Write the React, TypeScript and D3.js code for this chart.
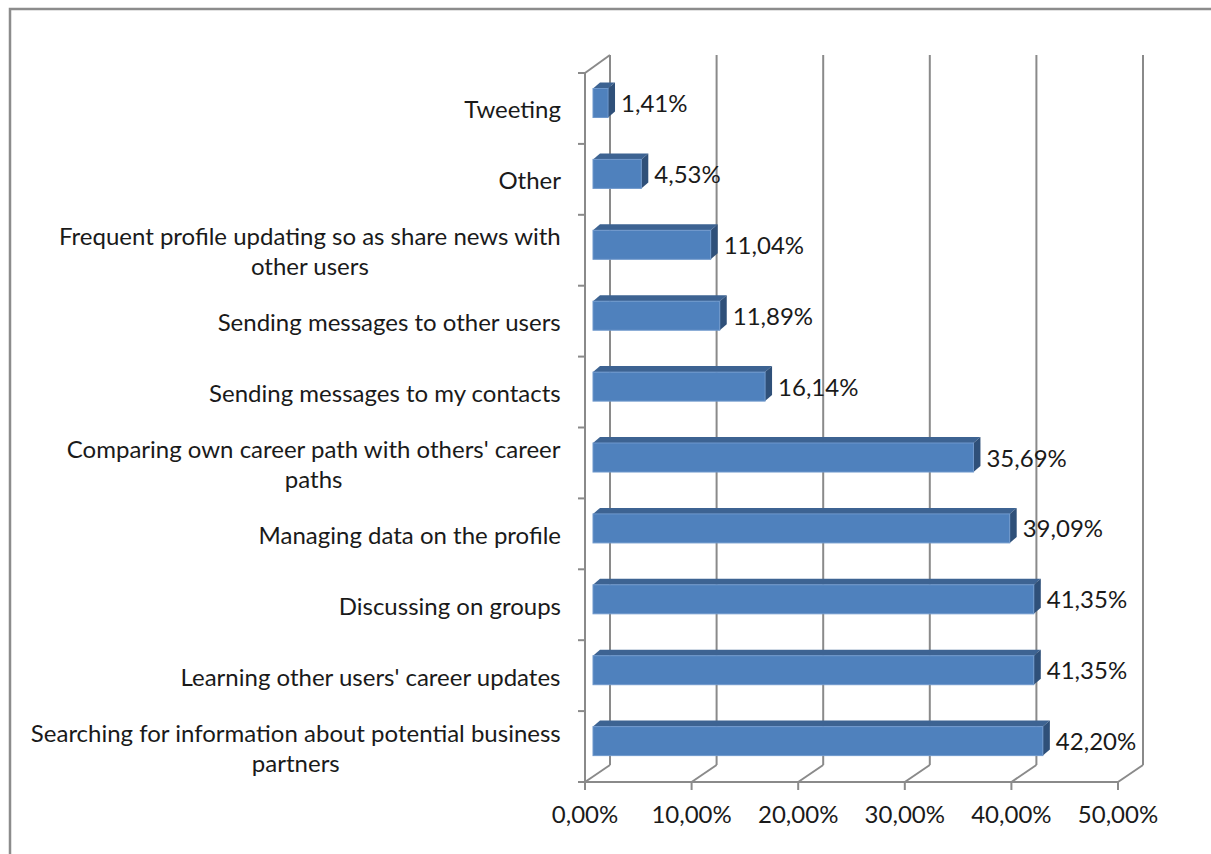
import React from "react";
import * as d3 from "d3";

const categories = [
  "Searching for information about potential business partners",
  "Learning other users' career updates",
  "Discussing on groups",
  "Managing data on the profile",
  "Comparing own career path with others' career paths",
  "Sending messages to my contacts",
  "Sending messages to other users",
  "Frequent profile updating so as share news with other users",
  "Other",
  "Tweeting",
];
const values = [42.2, 41.35, 41.35, 39.09, 35.69, 16.14, 11.89, 11.04, 4.53, 1.41];
const xTicks = [0, 10, 20, 30, 40, 50];

const W = 1211;
const H = 854;
const FONT = "Lato, 'Open Sans', sans-serif";
const FS = 24;
const WRAP = 540;

const fmt = (v: number) => v.toFixed(2).replace(".", ",") + "%";

function measure(text: string): number {
  const c = document.createElement("canvas");
  const ctx = c.getContext("2d")!;
  ctx.font = `${FS}px ${FONT}`;
  return ctx.measureText(text).width;
}

function wrap(text: string): string[] {
  const words = text.split(" ");
  const lines: string[] = [];
  let cur = "";
  for (const w of words) {
    const t = cur ? cur + " " + w : w;
    if (cur && measure(t) > WRAP) {
      lines.push(cur);
      cur = w;
    } else cur = t;
  }
  if (cur) lines.push(cur);
  return lines;
}

export default function App() {
  const x = d3.scaleLinear().domain([0, 50]).range([585, 1118]);
  const y = d3.scaleBand<string>().domain([...categories].reverse()).range([73, 782]);
  const DX = 25, DY = 17;
  const d1 = 0.32, d2 = 0.6;
  const barH = 29;
  const grid = "#8a8a8a";
  const yTop = 782 - DY;
  const wallTop = 73 - DY - 1;
  const bandEdges = [...categories.map((c) => y(c)!), 782];

  return (
    <svg width={W} height={H} style={{ position: "absolute", left: 0, top: 0, background: "#fff" }}>
      <rect x={10} y={9} width={W + 20} height={H + 20} fill="#fff" stroke="#8c8c8c" strokeWidth={2.5} />
      {xTicks.map((t) => (
        <g key={t}>
          <line x1={x(t) + DX} x2={x(t) + DX} y1={wallTop} y2={yTop} stroke={grid} strokeWidth={2} />
          <line x1={x(t) + DX} y1={yTop} x2={x(t)} y2={782} stroke={grid} strokeWidth={2} />
          <line x1={x(t)} x2={x(t)} y1={782} y2={790} stroke={grid} strokeWidth={2} />
          <text x={x(t)} y={823} textAnchor="middle" fontFamily={FONT} fontSize={FS} fill="#1a1a1a">
            {fmt(t)}
          </text>
        </g>
      ))}
      <line x1={585} x2={585} y1={73} y2={782} stroke={grid} strokeWidth={2} />
      <line x1={585} y1={73} x2={585 + DX} y2={wallTop} stroke={grid} strokeWidth={2} />
      <line x1={585} x2={x(50)} y1={782} y2={782} stroke={grid} strokeWidth={2} />
      {bandEdges.map((e, i) => (
        <line key={i} x1={578} x2={585} y1={e} y2={e} stroke={grid} strokeWidth={2} />
      ))}
      {categories.map((c, i) => {
        const v = values[i];
        const yc = y(c)! + y.bandwidth() / 2;
        const fx0 = x(0) + d1 * DX;
        const fx1 = x(v) + d1 * DX;
        const fy0 = yc - barH / 2 - d1 * DY;
        const fy1 = fy0 + barH;
        const ddx = (d2 - d1) * DX;
        const ddy = 6;
        const lines = wrap(c);
        const lh = 30;
        const cx = 561 - Math.max(...lines.map(measure)) / 2;
        const top = `${fx0},${fy0} ${fx1},${fy0} ${fx1 + ddx},${fy0 - ddy} ${fx0 + ddx},${fy0 - ddy}`;
        const side = `${fx1},${fy0} ${fx1 + ddx},${fy0 - ddy} ${fx1 + ddx},${fy1 - ddy} ${fx1},${fy1}`;
        return (
          <g key={c}>
            <polygon points={top} fill="#3d6392" />
            <polygon points={side} fill="#2f5079" />
            <rect x={fx0} y={fy0} width={fx1 - fx0} height={barH} fill="#4f81bd" stroke="#6f98cc" strokeWidth={1} />
            <text x={fx1 + ddx + 6} y={fy0 + barH / 2 + 9} fontFamily={FONT} fontSize={FS} fill="#1a1a1a">
              {fmt(v)}
            </text>
            <text
              x={cx}
              y={yc + 10 - ((lines.length - 1) * lh) / 2}
              textAnchor="middle"
              fontFamily={FONT}
              fontSize={FS}
              fill="#1a1a1a"
            >
              {lines.map((l, j) => (
                <tspan key={j} x={cx} dy={j === 0 ? 0 : lh}>
                  {l}
                </tspan>
              ))}
            </text>
          </g>
        );
      })}
    </svg>
  );
}
